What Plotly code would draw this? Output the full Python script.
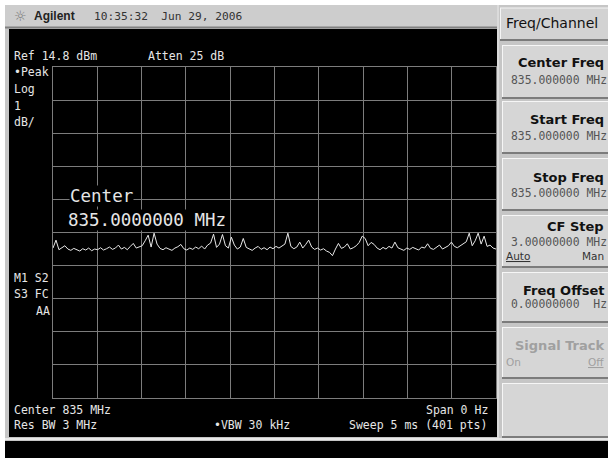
import numpy as np
import plotly.graph_objects as go

# ---------------- data ----------------
ref_level_dbm = 14.8
db_per_div = 1.0
sweep_ms = 5.0
trace_dbm = [
    9.33, 9.57, 9.28, 9.34, 9.40, 9.30, 9.26, 9.32, 9.29, 9.24,
    9.31, 9.27, 9.33, 9.25, 9.30, 9.28, 9.34, 9.27, 9.31, 9.36,
    9.29, 9.33, 9.42, 9.30, 9.35, 9.28, 9.38, 9.47, 9.33, 9.36,
    9.40, 9.55, 9.72, 9.36, 9.78, 9.45, 9.32, 9.28, 9.34, 9.30,
    9.26, 9.33, 9.37, 9.44, 9.31, 9.27, 9.33, 9.29, 9.36, 9.31,
    9.39, 9.30, 9.42, 9.48, 9.75, 9.35, 9.45, 9.74, 9.40, 9.33,
    9.66, 9.42, 9.30, 9.36, 9.62, 9.35, 9.30, 9.26, 9.33, 9.38,
    9.29, 9.34, 9.28, 9.36, 9.31, 9.38, 9.33, 9.40, 9.45, 9.78,
    9.38, 9.31, 9.36, 9.51, 9.33, 9.44, 9.57, 9.36, 9.29, 9.33,
    9.27, 9.31, 9.24, 9.20, 9.10, 9.30, 9.47, 9.32, 9.36, 9.46,
    9.30, 9.34, 9.40, 9.50, 9.69, 9.62, 9.40, 9.50, 9.44, 9.33,
    9.28, 9.35, 9.30, 9.38, 9.33, 9.51, 9.34, 9.30, 9.26, 9.33,
    9.29, 9.35, 9.31, 9.27, 9.36, 9.33, 9.46, 9.32, 9.29, 9.35,
    9.42, 9.30, 9.36, 9.40, 9.51, 9.38, 9.34, 9.40, 9.46, 9.52,
    9.78, 9.40, 9.55, 9.78, 9.45, 9.69, 9.38, 9.42, 9.33, 9.30,
]
time_ms = np.linspace(0, sweep_ms, len(trace_dbm))

header_brand = "Agilent"
header_time = "10:35:32  Jun 29, 2006"
ref_text = "Ref 14.8 dBm"
atten_text = "Atten 25 dB"
left_labels = ["•Peak", "Log", "1", "dB/"]
marker_labels = ["M1 S2", "S3 FC"]
center_title = "Center"
center_value = "835.0000000 MHz"
bottom_left = ["Center 835 MHz", "Res BW 3 MHz"]
vbw_text = "•VBW 30 kHz"
bottom_right = ["Span 0 Hz", "Sweep 5 ms (401 pts)"]
menu_title = "Freq/Channel"
softkeys = ["Center Freq", "Start Freq", "Stop Freq", "CF Step", "Freq Offset", "Signal Track", ""]
softkey_values = ["835.000000 MHz", "835.000000 MHz", "835.000000 MHz", "3.00000000 MHz", "0.00000000  Hz", "", ""]

# ---------------- geometry helpers (pixel -> paper) ----------------
W, H = 608, 460
GL, GR, GT, GB = 53, 496, 67, 398


def PX(x):
    return (x - GL) / (GR - GL)


def PY(y):
    return (GB - y) / (GB - GT)


fig = go.Figure()
fig.add_trace(go.Scatter(x=time_ms, y=trace_dbm, mode="lines",
                         line=dict(color="#e8e8e8", width=1), hoverinfo="skip"))

shapes = []


def rect(x0, y0, x1, y1, fill, line=None, lw=0):
    shapes.append(dict(type="rect", xref="paper", yref="paper", layer="below",
                       x0=PX(x0), x1=PX(x1), y0=PY(y1), y1=PY(y0),
                       fillcolor=fill, line=dict(width=lw, color=line or fill)))


def hline(x0, x1, y, color, w=1):
    shapes.append(dict(type="line", xref="paper", yref="paper", layer="below",
                       x0=PX(x0), x1=PX(x1), y0=PY(y), y1=PY(y), line=dict(color=color, width=w)))


def vline(x, y0, y1, color, w=1):
    shapes.append(dict(type="line", xref="paper", yref="paper", layer="below",
                       x0=PX(x), x1=PX(x), y0=PY(y0), y1=PY(y1), line=dict(color=color, width=w)))


# outer grey frame
rect(5, 5, 610, 441, "#c6c6c6")
# header bar
rect(5, 5, 497, 27, "#cdcdcd")
hline(5, 497, 27.5, "#808080", 2)
# black display
rect(9, 29, 497, 437, "#000000")
vline(498, 5, 440, "#f0f0f0", 1)
# bottom black strip
rect(5, 441, 610, 458, "#000000")
hline(5, 610, 439, "#e8e8e8", 2)

# menu title box
rect(500, 8, 612, 40, "#d2d2d2")
hline(500, 612, 8, "#f4f4f4", 1)
vline(500.5, 8, 40, "#f4f4f4", 1)
hline(500, 612, 40, "#7a7a7a", 2)

tops = [45, 101, 158, 215, 272, 327, 383]
bots = [98, 153, 210, 267, 322, 378, 437]
for t, b in zip(tops, bots):
    rect(502, t, 612, b, "#d6d6d6")
    hline(502, 612, t + 0.5, "#f6f6f6", 1)
    vline(502.5, t, b, "#f6f6f6", 1)
    hline(502, 612, b, "#7c7c7c", 2)

annotations = []
DISP = "#e6e6e6"
MONO = "DejaVu Sans Mono"


def txt(x, y, s, size=11.5, color=DISP, family=MONO, anchor="left", bg=None):
    d = dict(x=PX(x), y=PY(y), xref="paper", yref="paper", text=s, showarrow=False,
             xanchor=anchor, yanchor="middle", align=anchor if anchor != "center" else "center",
             font=dict(size=size, color=color, family=family))
    if bg:
        d["bgcolor"] = bg
        d["borderpad"] = 0
    annotations.append(d)


# header
txt(12, 16, "☼", size=14, color="#7a7a7a", family="DejaVu Sans")
txt(32, 16, "<b>" + header_brand + "</b>", size=12, color="#222", family="Liberation Sans")
txt(92, 16, header_time, size=11.2, color="#333", family=MONO)

# top display text
txt(12, 56, ref_text)
txt(146, 56, atten_text)
for lab, y in zip(left_labels, [72, 89, 106, 122]):
    txt(12, y, lab)
for lab, y in zip(marker_labels, [278, 294]):
    txt(12, y, lab)
txt(52, 311, "AA", anchor="right")

# center annotation
txt(69, 196, center_title, size=17.5, bg="#000000")
txt(67, 220, center_value, size=17.5, bg="#000000")

# bottom display text
txt(12, 410, bottom_left[0])
txt(12, 425, bottom_left[1])
txt(212, 425, vbw_text)
txt(490, 410, bottom_right[0], anchor="right")
txt(489, 425, bottom_right[1], anchor="right")

# softkey panel text
txt(504, 23, menu_title, size=14, color="#111", family="DejaVu Sans")
title_y = [62, 119, 177, 226, 290, 345]
value_y = [80, 136, 193, 242, 304]
for i, k in enumerate(softkeys[:6]):
    col = "#111" if k != "Signal Track" else "#a0a0a0"
    txt(606, title_y[i], "<b>" + k + "</b>", size=13, color=col, family="DejaVu Sans", anchor="right")
for i, v in enumerate(softkey_values[:5]):
    txt(509, value_y[i], v, size=11.4, color="#555", family=MONO)
txt(504, 256, '<span style="text-decoration:underline">Auto</span>', size=10.5, color="#333", family="DejaVu Sans")
txt(606, 256, "Man", size=10.5, color="#333", family="DejaVu Sans", anchor="right")
txt(504, 362, "On", size=10.5, color="#a0a0a0", family="DejaVu Sans")
txt(606, 362, '<span style="text-decoration:underline">Off</span>', size=10.5, color="#a0a0a0", family="DejaVu Sans", anchor="right")

GRID = "#7c7c7c"
fig.update_layout(
    width=W, height=H, autosize=False,
    margin=dict(l=GL, r=W - GR, t=GT, b=H - GB, pad=0),
    paper_bgcolor="#ffffff", plot_bgcolor="#000000",
    showlegend=False, hovermode=False,
    shapes=shapes, annotations=annotations,
    xaxis=dict(range=[0, sweep_ms], dtick=sweep_ms / 10, tick0=0, showticklabels=False,
               showgrid=True, gridcolor=GRID, gridwidth=1, zeroline=False,
               showline=True, mirror=True, linecolor=GRID, linewidth=1, ticks=""),
    yaxis=dict(range=[ref_level_dbm - 10 * db_per_div, ref_level_dbm], dtick=db_per_div,
               tick0=ref_level_dbm, showticklabels=False,
               showgrid=True, gridcolor=GRID, gridwidth=1, zeroline=False,
               showline=True, mirror=True, linecolor=GRID, linewidth=1, ticks=""),
)

fig.write_html("out.html", config={"displayModeBar": False},
               post_script="document.body.style.margin='0px';document.body.style.overflow='hidden';")
